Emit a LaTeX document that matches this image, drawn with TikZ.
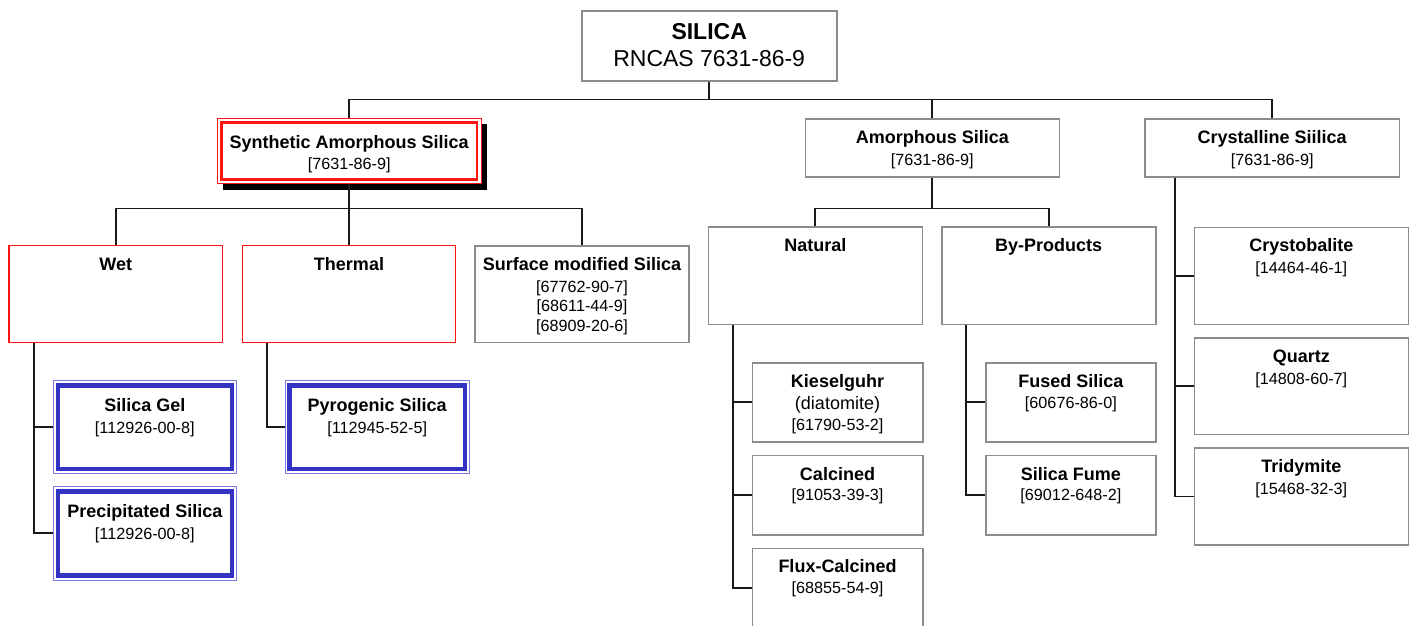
\documentclass[tikz,border=0pt]{standalone}
\usepackage{fontspec}
\setmainfont{Liberation Sans}
\usetikzlibrary{fit,calc}
\definecolor{boxgray}{HTML}{8C8C8C}
\definecolor{redb}{HTML}{FF1414}
\definecolor{blueb}{HTML}{3434C4}
\definecolor{bluel}{HTML}{7A7AE0}
\begin{document}
\begin{tikzpicture}[x=1pt,y=-1pt,
 gbox/.style={draw=boxgray,line width=1.6pt,fill=white,inner sep=0pt},
 rbox/.style={draw=redb,line width=1.4pt,fill=white,inner sep=0pt},
 rthin/.style={draw=redb,line width=1pt,fill=white,inner sep=0pt},
 bbox/.style={draw=bluel,line width=0.9pt,fill=white,inner sep=0pt},
 bthick/.style={draw=blueb,line width=4.5pt},
 rthick/.style={draw=redb,line width=2.8pt},
 conn/.style={draw=black!90,line width=1.8pt},
 ttl/.style={anchor=base,inner sep=0pt,font=\fontsize{18}{20}\selectfont\bfseries},
 cas/.style={anchor=base,inner sep=0pt,font=\fontsize{16.2}{18}\selectfont},
 mid/.style={anchor=base,inner sep=0pt,font=\fontsize{18}{20}\selectfont},
 big/.style={anchor=base,inner sep=0pt,font=\fontsize{23}{26}\selectfont},
]
\useasboundingbox (0,0) rectangle (1416,625);
\coordinate (bus0) at (0,99.5);
\coordinate (bus1) at (0,208.5);

% ---------- boxes ----------
\node[gbox, fit={(581.7,10.7) (836.7,81)}] (silica) {};
\fill[black] (222.5,124) rectangle (486.5,190);
\node[rthin, fit={(217.3,118.3) (481,183.3)}] (synth) {};
\draw[rthick] ($(synth.north west)+(4.6,4.5)$) rectangle ($(synth.south east)+(-4.6,-4.5)$);
\node[gbox, fit={(805.3,119) (1059.3,176.7)}] (amor) {};
\node[gbox, fit={(1145,119) (1399.3,176.7)}] (cryst) {};

\node[rbox, fit={(9,245.7) (222.3,342.3)}] (wet) {};
\node[rbox, fit={(242.3,245.7) (455.7,342.3)}] (thermal) {};
\node[gbox, fit={(475,246) (689,342.3)}] (surf) {};

\node[bbox, fit={(53.3,380.7) (236.3,473.3)}] (gel) {};
\node[bbox, fit={(53.3,486.7) (236.3,580)}] (prec) {};
\node[bbox, fit={(285,380.7) (469.3,473.3)}] (pyro) {};
\foreach \b in {gel,prec,pyro}
  \draw[bthick] ($(\b.north west)+(5,5)$) rectangle ($(\b.south east)+(-5,-5)$);

\node[gbox, fit={(708.3,227) (922.3,324.3)}] (natural) {};
\node[gbox, fit={(941.7,227) (1155.7,324.3)}] (byprod) {};
\node[gbox, fit={(752.3,362.7) (922.7,442)}] (kiesel) {};
\node[gbox, fit={(752.3,455.3) (922.7,535)}] (calc) {};
\node[gbox, fit={(752.3,548.3) (922.7,628)}] (flux) {};
\node[gbox, fit={(985.7,362.7) (1156,442)}] (fused) {};
\node[gbox, fit={(985.7,455.3) (1156,535)}] (fume) {};

\node[gbox, fit={(1194.3,227.3) (1408.3,324.3)}] (crysto) {};
\node[gbox, fit={(1194.3,337.7) (1408.3,434.3)}] (quartz) {};
\node[gbox, fit={(1194.3,448) (1408.3,545)}] (trid) {};

% ---------- connectors ----------
\draw[conn] (silica.south) -- (silica.south |- bus0);
\draw[conn] (synth.north) -- (synth.north |- bus0) -- (cryst.north |- bus0) -- (cryst.north);
\draw[conn] (amor.north) -- (amor.north |- bus0);

\draw[conn] (synth.south) -- (synth.south |- bus1);
\draw[conn] (wet.north) -- (wet.north |- bus1) -- (surf.north |- bus1) -- (surf.north);
\draw[conn] (thermal.north) -- (thermal.north |- bus1);

\draw[conn] (amor.south) -- (amor.south |- bus1);
\draw[conn] (natural.north) -- (natural.north |- bus1) -- (byprod.north |- bus1) -- (byprod.north);

\coordinate (wetdrop) at ($(wet.south west)+(25.5,0)$);
\draw[conn] (wetdrop) |- (prec.west);
\draw[conn] (wetdrop |- gel.west) -- (gel.west);
\coordinate (thdrop) at ($(thermal.south west)+(25.2,0)$);
\draw[conn] (thdrop) |- (pyro.west);

\coordinate (natdrop) at ($(natural.south west)+(25.7,0)$);
\draw[conn] (natdrop) |- (flux.west);
\draw[conn] (natdrop |- kiesel.west) -- (kiesel.west);
\draw[conn] (natdrop |- calc.west) -- (calc.west);

\coordinate (bydrop) at ($(byprod.south west)+(25,0)$);
\draw[conn] (bydrop) |- (fume.west);
\draw[conn] (bydrop |- fused.west) -- (fused.west);

\coordinate (crdrop) at ($(cryst.south west)+(31,0)$);
\draw[conn] (crdrop) |- (trid.west);
\draw[conn] (crdrop |- crysto.west) -- (crysto.west);
\draw[conn] (crdrop |- quartz.west) -- (quartz.west);

% ---------- texts ----------
\node[big, font=\fontsize{23}{26}\selectfont\bfseries] (silica-t) at (709.2,39) {SILICA};
\node[big] (silica-c) at (709.2,66.7) {RNCAS 7631-86-9};

\node[ttl] (synth-t) at (349.2,148.3) {Synthetic Amorphous Silica};
\node[cas] (synth-c) at (349.2,169) {[7631-86-9]};
\node[ttl] (amor-t) at (932.3,143.3) {Amorphous Silica};
\node[cas] (amor-c) at (932.3,165.7) {[7631-86-9]};
\node[ttl] (cryst-t) at (1272.2,143.3) {Crystalline Siilica};
\node[cas] (cryst-c) at (1272.2,165.7) {[7631-86-9]};

\node[ttl] (wet-t) at (115.7,270) {Wet};
\node[ttl] (thermal-t) at (349,270) {Thermal};
\node[ttl] (surf-t) at (582,270) {Surface modified Silica};
\node[cas] (surf-c1) at (582,292.3) {[67762-90-7]};
\node[cas] (surf-c2) at (582,311.7) {[68611-44-9]};
\node[cas] (surf-c3) at (582,331) {[68909-20-6]};

\node[ttl] (gel-t) at (144.8,411.7) {Silica Gel};
\node[cas] (gel-c) at (144.8,433) {[112926-00-8]};
\node[ttl] (prec-t) at (144.8,517.7) {Precipitated Silica};
\node[cas] (prec-c) at (144.8,539.3) {[112926-00-8]};
\node[ttl] (pyro-t) at (377.2,411.7) {Pyrogenic Silica};
\node[cas] (pyro-c) at (377.2,433) {[112945-52-5]};

\node[ttl] (natural-t) at (815.3,251.7) {Natural};
\node[ttl] (byprod-t) at (1048.7,251.7) {By-Products};

\node[ttl] (kiesel-t) at (837.5,387.3) {Kieselguhr};
\node[mid] (kiesel-m) at (837.5,409.3) {(diatomite)};
\node[cas] (kiesel-c) at (837.5,430) {[61790-53-2]};
\node[ttl] (calc-t) at (837.5,480) {Calcined};
\node[cas] (calc-c) at (837.5,500.7) {[91053-39-3]};
\node[ttl] (flux-t) at (837.5,572.7) {Flux-Calcined};
\node[cas] (flux-c) at (837.5,593.3) {[68855-54-9]};

\node[ttl] (fused-t) at (1070.9,387.3) {Fused Silica};
\node[cas] (fused-c) at (1070.9,408.3) {[60676-86-0]};
\node[ttl] (fume-t) at (1070.9,480) {Silica Fume};
\node[cas] (fume-c) at (1070.9,500.7) {[69012-648-2]};

\node[ttl] (crysto-t) at (1301.3,251.7) {Crystobalite};
\node[cas] (crysto-c) at (1301.3,273.3) {[14464-46-1]};
\node[ttl] (quartz-t) at (1301.3,362.7) {Quartz};
\node[cas] (quartz-c) at (1301.3,384) {[14808-60-7]};
\node[ttl] (trid-t) at (1301.3,472.7) {Tridymite};
\node[cas] (trid-c) at (1301.3,494) {[15468-32-3]};
\end{tikzpicture}
\end{document}
